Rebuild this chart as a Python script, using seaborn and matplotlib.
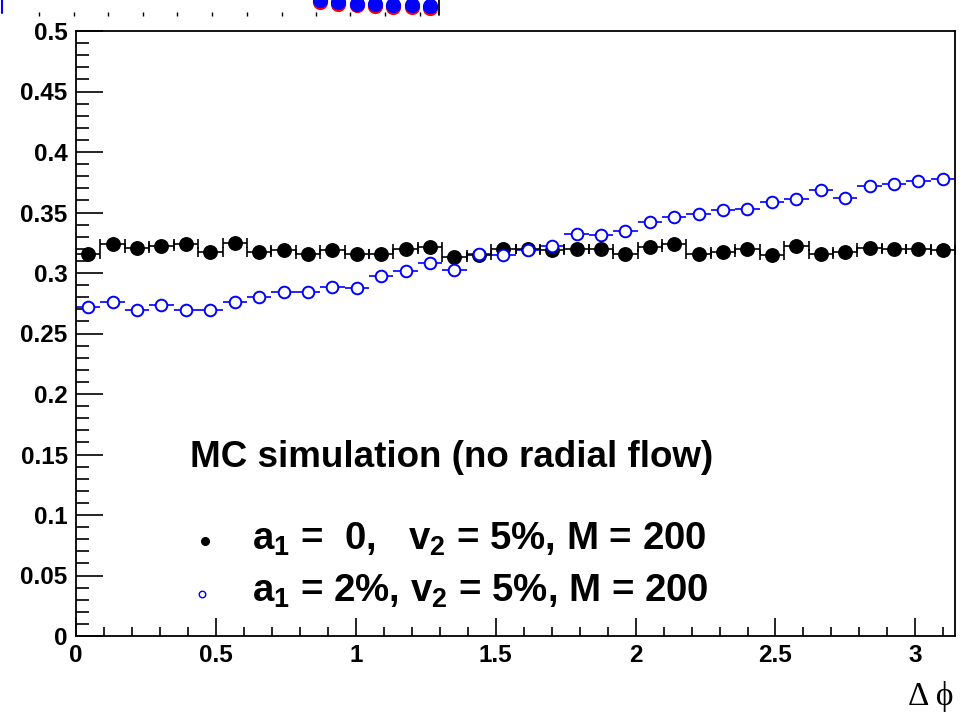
import matplotlib
matplotlib.use('Agg')
import matplotlib.pyplot as plt
import seaborn as sns
import pandas as pd
import numpy as np

# 36 bins over [0, pi]
N_BINS = 36
black_vals = [0.3157, 0.3237, 0.3204, 0.3221, 0.3237, 0.3176, 0.3250, 0.3176, 0.3190,
              0.3160, 0.3190, 0.3161, 0.3161, 0.3198, 0.3211, 0.3135, 0.3147, 0.3202,
              0.3196, 0.3193, 0.3197, 0.3200, 0.3157, 0.3211, 0.3238, 0.3157, 0.3174,
              0.3198, 0.3149, 0.3225, 0.3160, 0.3176, 0.3209, 0.3198, 0.3198, 0.3190]
blue_vals = [0.2721, 0.2763, 0.2694, 0.2733, 0.2694, 0.2694, 0.2758, 0.2799, 0.2845,
             0.2845, 0.2887, 0.2878, 0.2977, 0.3017, 0.3079, 0.3027, 0.3155, 0.3151,
             0.3187, 0.3221, 0.3325, 0.3310, 0.3344, 0.3421, 0.3459, 0.3485, 0.3521,
             0.3531, 0.3584, 0.3609, 0.3686, 0.3620, 0.3723, 0.3736, 0.3760, 0.3774]

title_text = 'MC simulation (no radial flow)'
label_black = 'a$_1$ =  0,   v$_2$ = 5%, M = 200'
label_blue = 'a$_1$ = 2%, v$_2$ = 5%, M = 200'
x_ticks = [0, 0.5, 1, 1.5, 2, 2.5, 3]
x_tick_labels = ['0', '0.5', '1', '1.5', '2', '2.5', '3']
y_ticks = [0, 0.05, 0.1, 0.15, 0.2, 0.25, 0.3, 0.35, 0.4, 0.45, 0.5]
y_tick_labels = ['0', '0.05', '0.1', '0.15', '0.2', '0.25', '0.3', '0.35', '0.4', '0.45', '0.5']

# cut-off piece of another pad at the very top (figure pixels)
top_dots_x = [39, 74, 108, 143, 177, 212, 247, 282, 316, 350, 385, 420]
top_circ_x = [320, 338, 357, 375, 393, 412, 430]
top_circ_y = [0, 2, 3.5, 4, 5, 5, 6]

sns.set_style('white')
plt.rcParams['font.family'] = ['Liberation Sans', 'DejaVu Sans']
plt.rcParams['font.weight'] = 'bold'
plt.rcParams['text.color'] = 'black'
plt.rcParams['mathtext.fontset'] = 'custom'
plt.rcParams['mathtext.rm'] = 'Liberation Sans:bold'
plt.rcParams['mathtext.it'] = 'Liberation Sans:bold'
plt.rcParams['mathtext.bf'] = 'Liberation Sans:bold'

bw = np.pi / N_BINS
centers = (np.arange(N_BINS) + 0.5) * bw
df = pd.DataFrame({'dphi': np.concatenate([centers, centers]),
                   'val': black_vals + blue_vals,
                   'sample': ['black'] * N_BINS + ['blue'] * N_BINS})

fig = plt.figure(figsize=(9.6, 7.2), dpi=100)
ax = fig.add_axes([76 / 960, 84 / 720, 879 / 960, 605 / 720])

dfb = df[df['sample'] == 'black']
dfo = df[df['sample'] == 'blue']
ax.errorbar(dfo['dphi'], dfo['val'], xerr=bw / 2, fmt='none', ecolor='blue', elinewidth=1.2,
            capsize=0, zorder=2)
ax.errorbar(dfb['dphi'], dfb['val'], xerr=bw / 2, fmt='none', ecolor='black', elinewidth=1.2,
            capsize=3.5, capthick=1.2, zorder=3)
sns.scatterplot(data=dfb, x='dphi', y='val', ax=ax, color='black', marker='o', s=115,
                edgecolor='black', linewidth=0, zorder=4, legend=False)
sns.scatterplot(data=dfo, x='dphi', y='val', ax=ax, marker='o', s=70, facecolor='white',
                edgecolor='blue', linewidth=1.4, zorder=5, legend=False)

ax.set_xlim(0, np.pi)
ax.set_ylim(0, 0.5)
ax.set_xticks(x_ticks)
ax.set_xticklabels(x_tick_labels)
ax.set_yticks(y_ticks)
ax.set_yticklabels(y_tick_labels)
ax.set_xticks(np.arange(0, 3.15, 0.1), minor=True)
ax.set_yticks(np.arange(0, 0.501, 0.01), minor=True)
ax.tick_params(axis='both', which='both', direction='in', labelsize=17.5, colors='black',
               bottom=True, left=True, top=False, right=False)
ax.tick_params(axis='y', which='major', length=19.5, width=1.2, pad=6)
ax.tick_params(axis='y', which='minor', length=9.7, width=1.2)
ax.tick_params(axis='x', which='major', length=13, width=1.2, pad=6)
ax.tick_params(axis='x', which='minor', length=6.5, width=1.2)
for lab in ax.get_xticklabels() + ax.get_yticklabels():
    lab.set_fontweight('bold')
for sp in ax.spines.values():
    sp.set_linewidth(1.3)
    sp.set_color('black')
ax.set_xlabel('')
ax.set_ylabel('')

# text block
ax.text(0.407, 0.1397, title_text, fontsize=26.5, fontweight='bold', va='baseline', ha='left')
ax.text(0.630, 0.0715, label_black, fontsize=27.6, fontweight='bold', va='baseline', ha='left')
ax.text(0.630, 0.0280, label_blue, fontsize=27.6, fontweight='bold', va='baseline', ha='left')
ax.scatter([0.461], [0.0785], s=30, color='black', zorder=6)
ax.scatter([0.450], [0.0345], s=22, facecolor='white', edgecolor='blue', linewidth=1.0, zorder=6)

fig.text(954 / 960, 1 - 697 / 720, 'Δ ϕ', fontsize=24, family=['Liberation Serif', 'DejaVu Serif'],
         fontweight='normal', ha='right', va='center')

# remnant of the pad above
top = fig.add_axes([0, 1 - 18 / 720, 460 / 960, 18 / 720])
top.set_xlim(0, 460)
top.set_ylim(18, 0)
top.axis('off')
sns.scatterplot(x=top_dots_x, y=[14] * len(top_dots_x), ax=top, marker='|', s=8, color='black',
                linewidth=1.0, legend=False)
sns.scatterplot(x=top_circ_x, y=[v + 1.5 for v in top_circ_y], ax=top, s=120, color='red',
                linewidth=0, legend=False)
sns.scatterplot(x=top_circ_x, y=top_circ_y, ax=top, s=120, color='blue', linewidth=0, legend=False)
top.plot([439, 439], [0, 15], color='black', lw=1.3)
top.plot([1.5, 1.5], [0, 13], color='blue', lw=1.5)

fig.savefig('out.png', dpi=100)
